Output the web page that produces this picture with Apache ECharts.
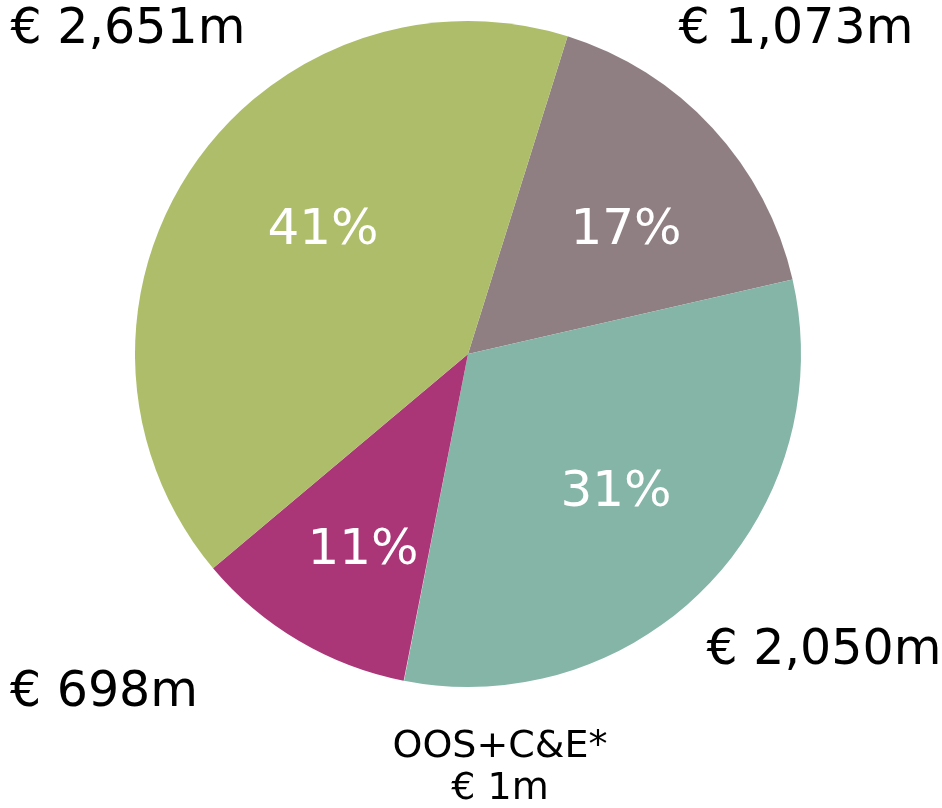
<!DOCTYPE html>
<html>
<head>
<meta charset="utf-8">
<script src="https://cdn.jsdelivr.net/npm/echarts@6/dist/echarts.min.js"></script>
<style>
  html, body { margin: 0; padding: 0; background: #fff; }
  #chart { width: 942px; height: 808px; }
</style>
</head>
<body>
<div id="chart"></div>
<script>
// slice order, clockwise from the top boundary
const names = ["gray", "teal", "OOS+C&E*", "magenta", "green"];
const values = [1073, 2050, 1, 698, 2651];
const pctLabels = ["17%", "31%", "", "11%", "41%"];
const valueLabels = ["€ 1,073m", "€ 2,050m", "OOS+C&E*\n€ 1m", "€ 698m", "€ 2,651m"];
const colors = ["#907f82", "#84b5a7", "#e8ecea", "#aa3577", "#adbd69"];

// label anchor points (centre of text)
const pctPos = [[626, 231], [616, 493], [0, 0], [363, 551], [323, 231]];
const valuePos = [[796, 30], [824, 651], [500, 768], [104, 693], [128, 30]];

const chart = echarts.init(document.getElementById("chart"));

const font = "'DejaVu Sans', Verdana, sans-serif";

chart.setOption({
  animation: false,
  graphic: valueLabels.map((t, i) => ({
    type: "text",
    x: valuePos[i][0],
    y: valuePos[i][1],
    silent: true,
    style: {
      text: t,
      fill: "#000",
      font: (i === 2 ? "38px " : "49px ") + font,
      lineHeight: i === 2 ? 42 : 56,
      align: "center",
      verticalAlign: "middle",
    },
  })),
  series: [
    {
      type: "pie",
      center: [468, 354],
      radius: 333,
      startAngle: 72.6,
      clockwise: true,
      minAngle: 0,
      data: names.map((n, i) => ({
        name: n,
        value: values[i],
        itemStyle: { color: colors[i] },
      })),
      itemStyle: { borderWidth: 0 },
      emphasis: { disabled: true },
      labelLine: { show: false },
      label: {
        show: true,
        position: "inside",
        color: "#fff",
        fontFamily: font,
        fontSize: 50,
        formatter: (p) => pctLabels[p.dataIndex],
      },
      labelLayout: (p) => ({
        hide: pctLabels[p.dataIndex] === "",
        x: pctPos[p.dataIndex][0],
        y: pctPos[p.dataIndex][1],
        align: "center",
        verticalAlign: "middle",
      }),
    },
  ],
});
</script>
</body>
</html>
